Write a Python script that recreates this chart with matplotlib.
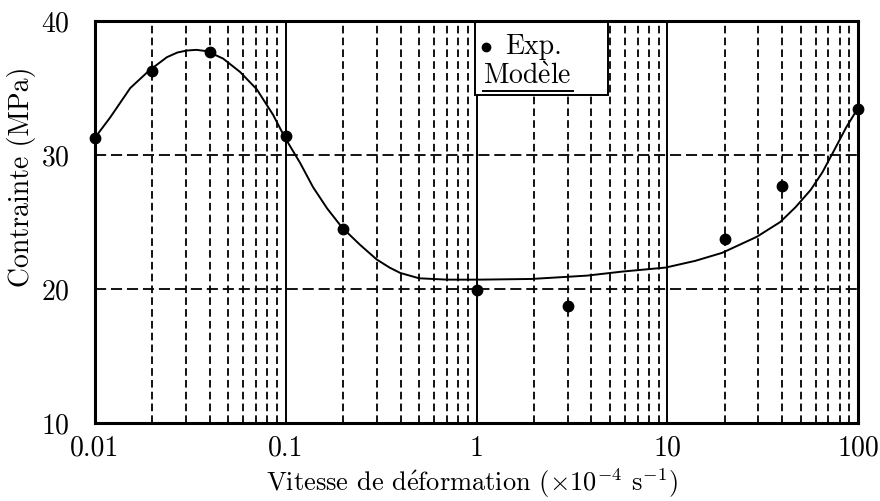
import numpy as np
import matplotlib.pyplot as plt
from matplotlib.patches import Rectangle

plt.rcParams['font.family'] = ['cmr10', 'DejaVu Serif']
plt.rcParams['mathtext.fontset'] = 'cm'
plt.rcParams['axes.formatter.use_mathtext'] = True
plt.rcParams['lines.scale_dashes'] = False

# points experimentaux
exp_x = [0.01, 0.02, 0.04, 0.1, 0.2, 1, 3, 20, 40, 100]
exp_y = [31.3, 36.3, 37.7, 31.4, 24.5, 19.9, 18.7, 23.7, 27.7, 33.4]

# courbe du modele
model_x = [0.01, 0.012, 0.0153, 0.0192, 0.0238, 0.027, 0.0303, 0.034, 0.0386, 0.0469, 0.0576,
           0.0705, 0.0858, 0.099, 0.119, 0.139, 0.165, 0.197, 0.245, 0.30, 0.35, 0.398, 0.50,
           0.70, 1.04, 1.94, 3.8, 5.8, 9.8, 14, 19.4, 29.5, 39.1, 47, 56.5, 65, 74, 87, 100]
model_y = [31.3, 32.8, 35.0, 36.3, 37.3, 37.65, 37.8, 37.85, 37.75, 37.2, 36.2,
           34.9, 33.0, 31.3, 29.4, 27.6, 26.0, 24.6, 23.3, 22.2, 21.6, 21.2, 20.8,
           20.7, 20.7, 20.75, 21.0, 21.3, 21.6, 22.1, 22.7, 23.9, 25.0, 26.1, 27.4, 28.7, 30.2, 32.1, 33.5]

x_ticks = [0.01, 0.1, 1, 10, 100]
x_labels = ['0.01', '0.1', '1', '10', '100']
y_ticks = [10, 20, 30, 40]

fig = plt.figure(figsize=(8.8, 5.01), dpi=100)
ax = fig.add_axes([0.108, 0.1557, 0.867, 0.8023])

ax.set_xscale('log')
ax.set_xlim(0.01, 100)
ax.set_ylim(10, 40)

# grille : traits pleins aux decades, tirets aux sous-multiples
for d in [0.1, 1, 10]:
    ax.axvline(d, color='black', lw=1.4, zorder=1)
for d in [0.01, 0.1, 1, 10]:
    for m in range(2, 10):
        ax.axvline(d * m, color='black', lw=1.3, ls=(0, (5.5, 3.0)), zorder=1)
for yy in [20, 30]:
    ax.axhline(yy, color='black', lw=1.3, ls=(0, (8.0, 3.5)), zorder=1)

ax.plot(model_x, model_y, color='black', lw=1.4, zorder=3)
ax.plot(exp_x, exp_y, 'o', color='black', ms=7.5, zorder=4, clip_on=False)

# legende
ax.add_patch(Rectangle((0.498, 0.816), 0.174, 0.184, transform=ax.transAxes,
                       facecolor='white', edgecolor='black', lw=1.4, zorder=5))
ax.plot([0.512], [0.935], 'o', color='black', ms=6, transform=ax.transAxes, zorder=6)
ax.text(0.537, 0.936, 'Exp.', transform=ax.transAxes, fontsize=20,
        va='center', ha='left', zorder=6)
ax.text(0.508, 0.862, r'Mod$\grave{\rm e}$le', transform=ax.transAxes, fontsize=20,
        va='center', ha='left', zorder=6)
ax.plot([0.508, 0.626], [0.826, 0.826], color='black', lw=1.4,
        transform=ax.transAxes, zorder=6)

ax.set_xticks(x_ticks)
ax.set_xticklabels(x_labels)
ax.xaxis.set_minor_locator(plt.NullLocator())
ax.set_yticks(y_ticks)
ax.tick_params(axis='both', length=0, labelsize=20)
ax.tick_params(axis='x', pad=9)
ax.tick_params(axis='y', pad=18)

for s in ax.spines.values():
    s.set_linewidth(2.2)
    s.set_zorder(7)

ax.set_xlabel(r'Vitesse de d$\acute{\rm e}$formation ($\times10^{-4}$ s$^{-1}$)', fontsize=19)
ax.xaxis.set_label_coords(0.494, -0.108)
ax.set_ylabel('Contrainte (MPa)', fontsize=20)
ax.yaxis.set_label_coords(-0.078, 0.612)

fig.savefig('out.png', dpi=100)
